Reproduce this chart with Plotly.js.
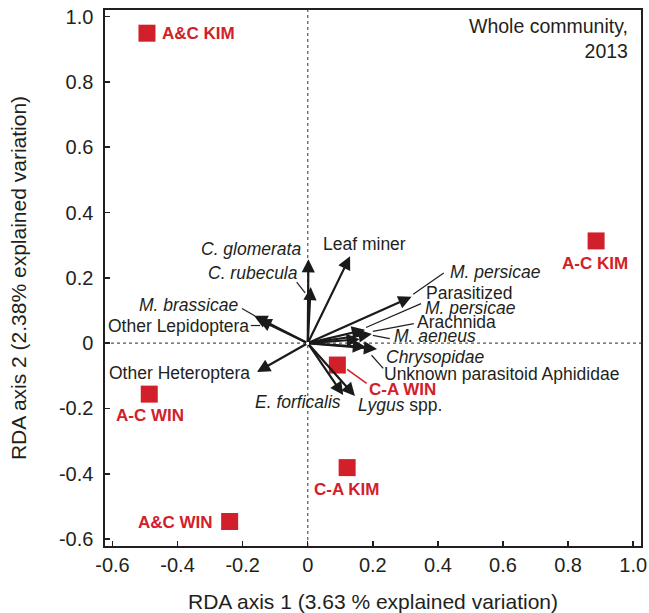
<!DOCTYPE html>
<html>
<head>
<meta charset="utf-8">
<script src="https://cdn.plot.ly/plotly-3.0.1.min.js"></script>
<style>html,body{margin:0;padding:0;background:#fff}#chart{width:649px;height:613px}</style>
</head>
<body>
<div id="chart"></div>
<script>
// ---- Data ----
var siteNames = ["A&C KIM", "A-C KIM", "A-C WIN", "C-A WIN", "C-A KIM", "A&C WIN"];
var siteX = [-0.494, 0.886, -0.487, 0.091, 0.121, -0.240];
var siteY = [0.949, 0.313, -0.156, -0.067, -0.381, -0.546];

var speciesNames = ["C. glomerata", "C. rubecula", "Leaf miner", "M. brassicae", "Other Lepidoptera",
  "Other Heteroptera", "M. persicae", "Parasitized M. persicae", "Arachnida", "M. aeneus",
  "Chrysopidae", "Unknown parasitoid Aphididae", "E. forficalis", "Lygus spp."];
var speciesX = [0.002, 0.009, 0.130, -0.165, -0.152, -0.156, 0.319, 0.176, 0.197, 0.160, 0.213, 0.179, 0.109, 0.145];
var speciesY = [0.257, 0.172, 0.266, 0.084, 0.073, -0.088, 0.142, 0.041, 0.028, 0.012, -0.018, -0.012, -0.159, -0.162];

var xTicks = [-0.6, -0.4, -0.2, 0, 0.2, 0.4, 0.6, 0.8, 1.0];
var xTickText = ["-0.6", "-0.4", "-0.2", "0", "0.2", "0.4", "0.6", "0.8", "1.0"];
var yTicks = [-0.6, -0.4, -0.2, 0, 0.2, 0.4, 0.6, 0.8, 1.0];
var yTickText = ["-0.6", "-0.4", "-0.2", "0", "0.2", "0.4", "0.6", "0.8", "1.0"];

// ---- Styling / label placement ----
var FONT = "Liberation Sans, Arial, sans-serif";
var INK = "#231f20";
var RED = "#d2202a";

var speciesLabelStyle = [
  {t: "<i>C. glomerata</i>", x: -0.018, y: 0.287, xa: "right"},
  {t: "<i>C. rubecula</i>", x: -0.027, y: 0.215, xa: "right"},
  {t: "Leaf miner", x: 0.043, y: 0.305, xa: "left"},
  {t: "<i>M. brassicae</i>", x: -0.211, y: 0.118, xa: "right"},
  {t: "Other Lepidoptera", x: -0.177, y: 0.052, xa: "right"},
  {t: "Other Heteroptera", x: -0.175, y: -0.090, xa: "right"},
  {t: "<i>M. persicae</i>", x: 0.433, y: 0.218, xa: "left"},
  {t: "Parasitized", x: 0.498, y: 0.154, xa: "center"},
  {t: "Arachnida", x: 0.332, y: 0.065, xa: "left"},
  {t: "<i>M. aeneus</i>", x: 0.262, y: 0.021, xa: "left"},
  {t: "<i>Chrysopidae</i>", x: 0.237, y: -0.042, xa: "left"},
  {t: "Unknown parasitoid Aphididae", x: 0.230, y: -0.093, xa: "left"},
  {t: "<i>E. forficalis</i>", x: 0.104, y: -0.180, xa: "right"},
  {t: "<i>Lygus</i> spp.", x: 0.152, y: -0.190, xa: "left"}
];
var extraLabels = [{t: "<i>M. persicae</i>", x: 0.499, y: 0.108, xa: "center"}];

var siteLabelStyle = [
  {x: -0.450, y: 0.949, xa: "left"},
  {x: 0.884, y: 0.244, xa: "center"},
  {x: -0.484, y: -0.222, xa: "center"},
  {x: 0.186, y: -0.142, xa: "left"},
  {x: 0.118, y: -0.447, xa: "center"},
  {x: -0.287, y: -0.548, xa: "right"}
];

var annotations = [];
for (var i = 0; i < speciesNames.length; i++) {
  annotations.push({
    x: speciesX[i], y: speciesY[i], ax: 0, ay: 0,
    xref: "x", yref: "y", axref: "x", ayref: "y",
    showarrow: true, arrowhead: 2, arrowsize: 1.2, arrowwidth: 2.2,
    arrowcolor: "#1a1a1a", standoff: 0, text: ""
  });
}
function addLabel(s, size, color, bold) {
  annotations.push({
    x: s.x, y: s.y, xref: "x", yref: "y", showarrow: false,
    text: bold ? "<b>" + s.t + "</b>" : s.t,
    xanchor: s.xa, yanchor: "middle", borderpad: 0,
    font: {family: FONT, size: size, color: color}
  });
}
speciesLabelStyle.forEach(function (s) { addLabel(s, 17.5, INK, false); });
extraLabels.forEach(function (s) { addLabel(s, 17.5, INK, false); });
siteLabelStyle.forEach(function (s, i) {
  addLabel({t: siteNames[i], x: s.x, y: s.y, xa: s.xa}, 17, RED, true);
});
annotations.push({
  x: 0.989, y: 1.012, xref: "x", yref: "y", showarrow: false,
  text: "Whole community,<br>2013", align: "right",
  xanchor: "right", yanchor: "top",
  font: {family: FONT, size: 19.5, color: INK}
});

function seg(x0, y0, x1, y1, color, w) {
  return {type: "line", xref: "x", yref: "y", x0: x0, y0: y0, x1: x1, y1: y1,
    line: {color: color || INK, width: w || 1.2}};
}
var shapes = [
  {type: "line", xref: "x", yref: "paper", x0: 0, x1: 0, y0: 0, y1: 1,
    line: {color: "#555", width: 1.2, dash: "3px,3px"}, layer: "below"},
  {type: "line", xref: "paper", yref: "y", x0: 0, x1: 1, y0: 0, y1: 0,
    line: {color: "#555", width: 1.2, dash: "3px,3px"}, layer: "below"},
  seg(-0.034, 0.187, -0.008, 0.154),
  seg(-0.202, 0.106, -0.162, 0.083),
  seg(-0.175, 0.054, -0.146, 0.054),
  seg(0.324, 0.150, 0.418, 0.215),
  seg(0.348, 0.121, 0.179, 0.048),
  seg(0.326, 0.060, 0.200, 0.036),
  seg(0.252, 0.014, 0.200, 0.024),
  seg(0.232, -0.077, 0.196, -0.037),
  seg(0.121, -0.080, 0.181, -0.123, RED, 1.5)
];

var traces = [{
  type: "scatter", mode: "markers", x: siteX, y: siteY, text: siteNames,
  marker: {symbol: "square", size: 17, color: RED, line: {width: 0}},
  hoverinfo: "text", showlegend: false
}];

var axisCommon = {
  showgrid: false, zeroline: false, showline: true, mirror: true,
  linecolor: INK, linewidth: 1.6, ticks: "inside", ticklen: 5, tickwidth: 1.4,
  tickcolor: INK, tickfont: {family: FONT, size: 20, color: INK}
};
var layout = {
  width: 649, height: 613,
  margin: {l: 104.5, r: 7.5, t: 9.5, b: 67},
  paper_bgcolor: "#fff", plot_bgcolor: "#fff",
  xaxis: Object.assign({}, axisCommon, {
    range: [-0.623, 1.024], tickmode: "array", tickvals: xTicks, ticktext: xTickText,
    title: {text: "RDA axis 1 (3.63 % explained variation)", font: {family: FONT, size: 21, color: INK}, standoff: 20}
  }),
  yaxis: Object.assign({}, axisCommon, {
    range: [-0.621, 1.02], tickmode: "array", tickvals: yTicks, ticktext: yTickText,
    ticklabelstandoff: 6,
    title: {text: "RDA axis 2 (2.38% explained variation)", font: {family: FONT, size: 21, color: INK}, standoff: 26}
  }),
  annotations: annotations,
  shapes: shapes,
  showlegend: false
};
Plotly.newPlot("chart", traces, layout, {displayModeBar: false, staticPlot: true});
</script>
</body>
</html>
